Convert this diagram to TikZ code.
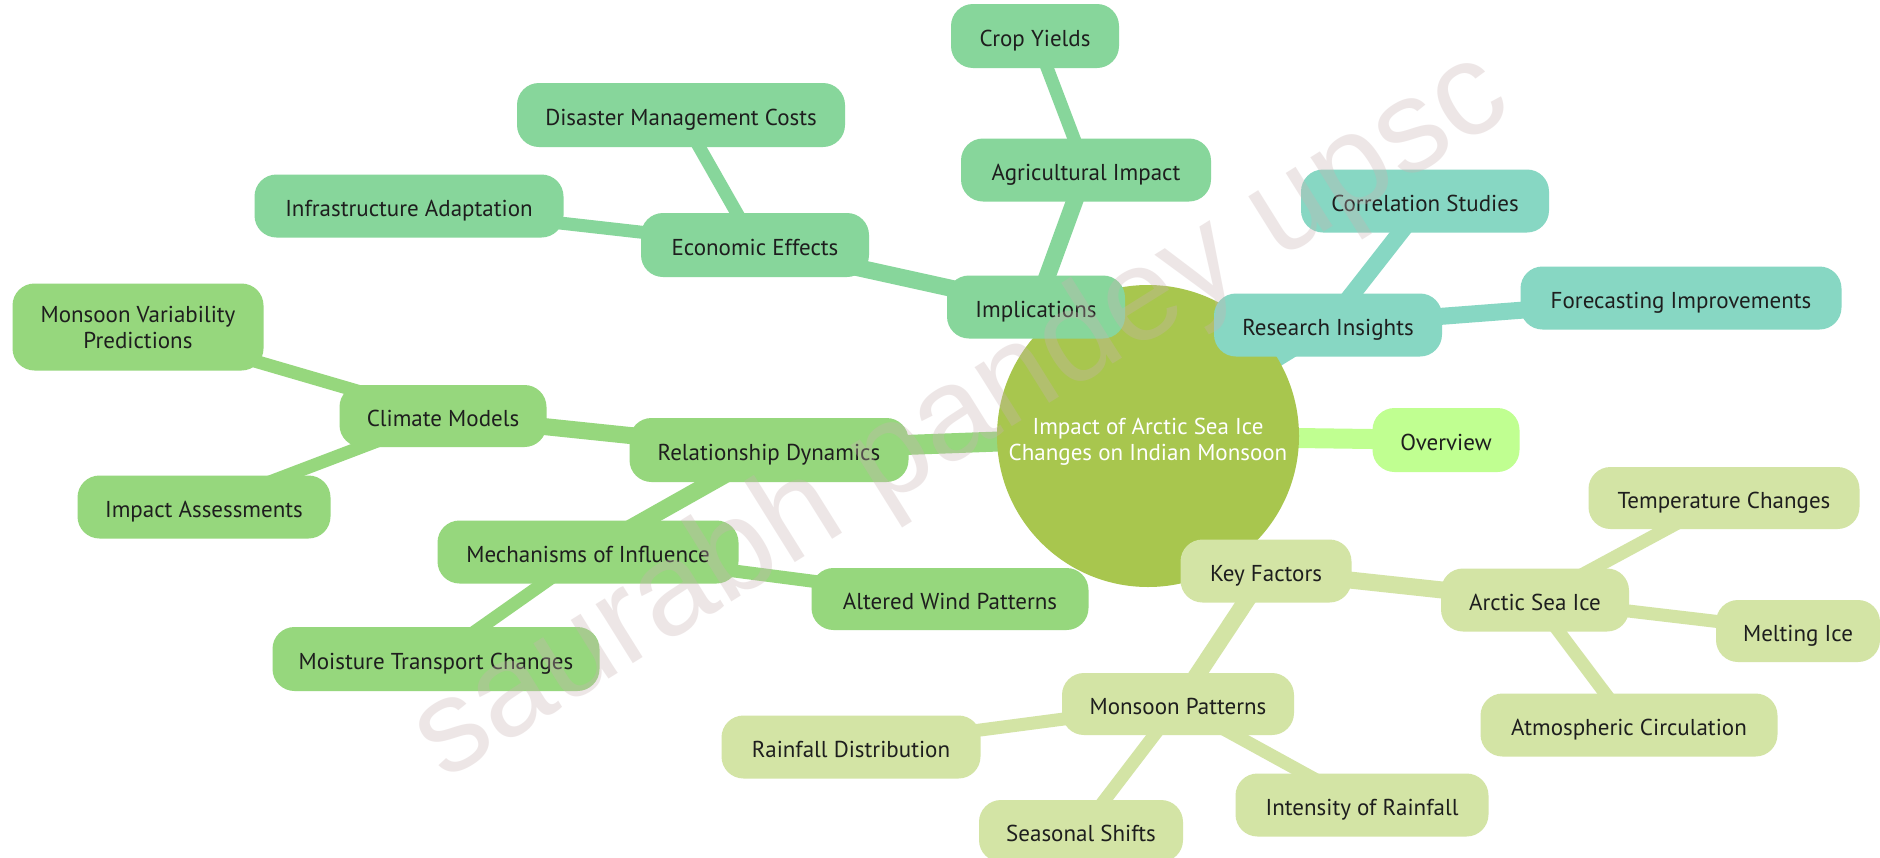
\documentclass[tikz,border=0pt]{standalone}
\usepackage{fontspec}
\setmainfont{PT Sans}
\newfontfamily\wmfont{Liberation Sans}
\definecolor{implcol}{HTML}{87D69B}
\definecolor{relcol}{HTML}{96D77D}
\definecolor{rescol}{HTML}{87D7C3}
\definecolor{keycol}{HTML}{D3E4A5}
\definecolor{overcol}{HTML}{C0FF91}
\definecolor{rootcol}{HTML}{A8C64E}
\definecolor{txtcol}{HTML}{1E1E1E}
\definecolor{wmcol}{HTML}{C9B3B3}
\pgfdeclarelayer{edges}
\pgfdeclarelayer{wm}
\pgfsetlayers{edges,main,wm}
\tikzset{
  mm/.style={rounded corners=22pt, inner sep=0pt, minimum height=63pt, text=txtcol,
    font=\fontsize{23}{26}\selectfont, align=center, text height=24pt, text depth=3pt},
  eA/.style={line width=20pt},
  eB/.style={line width=17pt},
  eC/.style={line width=13pt},
}
\begin{document}
\begin{tikzpicture}[x=1pt,y=-1pt]
\useasboundingbox (0,0) rectangle (1880,857);
% root
\node[circle, fill=rootcol, minimum size=302pt, inner sep=0pt] (root) at (1148,436) {};
\node[text=white, align=center, inner sep=0pt, font=\fontsize{23}{26}\selectfont] (roottxt) at (1148,442) {Impact of Arctic Sea Ice\\Changes on Indian Monsoon};
% implications branch
\node[mm, fill=implcol, minimum width=168pt, minimum height=64pt] (crop) at (1035,36) {Crop Yields};
\node[mm, fill=implcol, minimum width=250pt] (agri) at (1086,170) {Agricultural Impact};
\node[mm, fill=implcol, minimum width=328pt, minimum height=64pt] (disaster) at (681,115) {Disaster Management Costs};
\node[mm, fill=implcol, minimum width=309pt] (infra) at (409,206) {Infrastructure Adaptation};
\node[mm, fill=implcol, minimum width=228pt, minimum height=64pt] (econ) at (755,245) {Economic Effects};
\node[mm, fill=implcol, minimum width=178pt] (impl) at (1036,307) {Implications};
% research branch
\node[mm, fill=rescol, minimum width=248pt] (corr) at (1425,201) {Correlation Studies};
\node[mm, fill=rescol, minimum width=228pt] (research) at (1328,325) {Research Insights};
\node[mm, fill=rescol, minimum width=321pt] (forecast) at (1681,298) {Forecasting Improvements};
% relationship branch
\node[mm, fill=relcol, minimum width=251pt, minimum height=87pt, text height={}, text depth={}] (mvp) at (138,327) {Monsoon Variability\\Predictions};
\node[mm, fill=relcol, minimum width=207pt, minimum height=62pt] (climate) at (443,416) {Climate Models};
\node[mm, fill=relcol, minimum width=279pt, minimum height=64pt] (reldyn) at (769,450) {Relationship Dynamics};
\node[mm, fill=relcol, minimum width=253pt] (assess) at (204,507) {Impact Assessments};
\node[mm, fill=relcol, minimum width=301pt] (mech) at (588,552) {Mechanisms of Influence};
\node[mm, fill=relcol, minimum width=277pt, minimum height=62pt] (wind) at (950,599) {Altered Wind Patterns};
\node[mm, fill=relcol, minimum width=327pt, minimum height=64pt] (moist) at (436,659) {Moisture Transport Changes};
% overview
\node[mm, fill=overcol, minimum width=147pt, minimum height=64pt] (overview) at (1446,440) {Overview};
% key factors branch
\node[mm, fill=keycol, minimum width=171pt] (keyf) at (1266,571) {Key Factors};
\node[mm, fill=keycol, minimum width=188pt] (arctic) at (1535,600) {Arctic Sea Ice};
\node[mm, fill=keycol, minimum width=271pt, minimum height=62pt] (temp) at (1724,498) {Temperature Changes};
\node[mm, fill=keycol, minimum width=164pt, minimum height=62pt] (melt) at (1798,631) {Melting Ice};
\node[mm, fill=keycol, minimum width=297pt] (atmos) at (1629,725) {Atmospheric Circulation};
\node[mm, fill=keycol, minimum width=232pt, minimum height=62pt] (monsoon) at (1178,704) {Monsoon Patterns};
\node[mm, fill=keycol, minimum width=259pt] (rainfall) at (851,747) {Rainfall Distribution};
\node[mm, fill=keycol, minimum width=204pt, minimum height=62pt] (seasonal) at (1081,831) {Seasonal Shifts};
\node[mm, fill=keycol, minimum width=253pt] (intensity) at (1362,805) {Intensity of Rainfall};
% edges
\begin{pgfonlayer}{edges}
\fill[white] (0,0) rectangle (1880,857);
\draw[eA, implcol] (root.center) -- (impl.center);
\draw[eA, rescol] (root.center) -- (research.center);
\draw[eA, overcol] (root.center) -- (overview.center);
\draw[eA, keycol] (root.center) -- (keyf.center);
\draw[eA, relcol] (root.center) -- (reldyn.center);
\draw[eB, implcol] (impl.center) -- (econ.center);
\draw[eB, implcol] (impl.center) -- (agri.center);
\draw[eB, rescol] (research.center) -- (corr.center);
\draw[eB, rescol] (research.center) -- (forecast.center);
\draw[eB, keycol] (keyf.center) -- (arctic.center);
\draw[eB, keycol] (keyf.center) -- (monsoon.center);
\draw[eB, relcol] (reldyn.center) -- (climate.center);
\draw[eB, relcol] (reldyn.center) -- (mech.center);
\draw[eC, implcol] (agri.center) -- (crop.center);
\draw[eC, implcol] (econ.center) -- (disaster.center);
\draw[eC, implcol] (econ.center) -- (infra.center);
\draw[eC, relcol] (climate.center) -- (mvp.center);
\draw[eC, relcol] (climate.center) -- (assess.center);
\draw[eC, relcol] (mech.center) -- (wind.center);
\draw[eC, relcol] (mech.center) -- (moist.center);
\draw[eC, keycol] (arctic.center) -- (temp.center);
\draw[eC, keycol] (arctic.center) -- (melt.center);
\draw[eC, keycol] (arctic.center) -- (atmos.center);
\draw[eC, keycol] (monsoon.center) -- (rainfall.center);
\draw[eC, keycol] (monsoon.center) -- (seasonal.center);
\draw[eC, keycol] (monsoon.center) -- (intensity.center);
\end{pgfonlayer}
% watermark
\begin{pgfonlayer}{wm}
\node[rotate=32, text=wmcol, opacity=0.32, font=\wmfont\fontsize{132}{132}\selectfont, inner sep=0pt] (wmark) at (962,418) {saurabh pandey upsc};
\end{pgfonlayer}
\end{tikzpicture}
\end{document}
